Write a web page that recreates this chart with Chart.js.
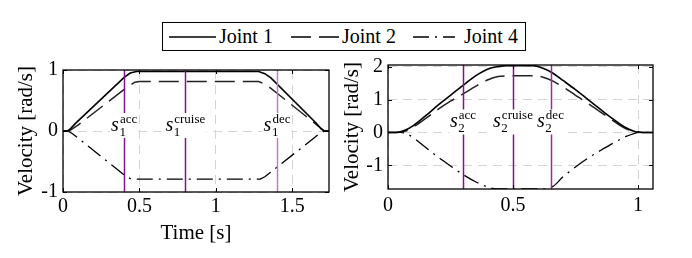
<!DOCTYPE html>
<html>
<head>
<meta charset="utf-8">
<script src="https://cdn.jsdelivr.net/npm/chart.js@4.4.1/dist/chart.umd.min.js"></script>
<style>
  html, body { margin: 0; padding: 0; background: #fff; }
  #wrap { position: relative; width: 692px; height: 258px; overflow: hidden; font-family: 'Liberation Serif', serif; }
  canvas { position: absolute; }
  #legend { position: absolute; left: 162px; top: 22px; width: 364px; height: 29px; border: 1px solid #000; box-sizing: border-box; }
  #legend svg, #legend span { position: absolute; }
  #legend span { font-size: 20px; line-height: 27px; top: 0; color: #000; }
</style>
</head>
<body>
<div id="wrap">
  <div id="legend">
    <svg style="left:6px;top:6px" width="48" height="16"><line x1="0" y1="8" x2="47" y2="8" stroke="#000" stroke-width="1.4"/></svg>
    <span style="left:56px">Joint 1</span>
    <svg style="left:128px;top:6px" width="48" height="16"><line x1="0" y1="8" x2="48" y2="8" stroke="#000" stroke-width="1.4" stroke-dasharray="20 8"/></svg>
    <span style="left:179px">Joint 2</span>
    <svg style="left:250px;top:6px" width="42" height="16"><line x1="0" y1="8" x2="42" y2="8" stroke="#000" stroke-width="1.4" stroke-dasharray="16 6 2 6"/></svg>
    <span style="left:301px">Joint 4</span>
  </div>
  <canvas id="leftChart" style="left:0;top:60px" width="338" height="198"></canvas>
  <canvas id="rightChart" style="left:338px;top:55px" width="354" height="203"></canvas>
</div>
<script>
// --- left plot: joint velocities over time [s] ---
const leftJ1T = [0, 0.03, 0.05, 0.08, 0.40, 0.44, 0.48, 1.28, 1.32, 1.36, 1.66, 1.69, 1.71, 1.74];
const leftJ1V = [0, 0, 0.04, 0.12, 0.88, 0.95, 0.975, 0.975, 0.94, 0.87, 0.12, 0.03, 0, 0];
const leftJ2T = [0, 0.04, 0.10, 0.42, 0.47, 0.50, 1.28, 1.33, 1.66, 1.71, 1.74];
const leftJ2V = [0, 0, 0.10, 0.72, 0.80, 0.81, 0.81, 0.76, 0.10, 0, 0];
const leftJ4T = [0, 0.03, 0.06, 0.40, 0.44, 0.46, 1.29, 1.32, 1.68, 1.71, 1.74];
const leftJ4V = [0, 0, -0.04, -0.72, -0.78, -0.79, -0.79, -0.75, -0.04, 0, 0];

// --- right plot ---
const rightJ1T = [0, 0.03, 0.06, 0.10, 0.15, 0.20, 0.25, 0.30, 0.35, 0.40, 0.44, 0.48, 0.58, 0.62, 0.66, 0.70, 0.75, 0.80, 0.85, 0.90, 0.95, 0.99, 1.02, 1.06];
const rightJ1V = [0, 0, 0.04, 0.20, 0.50, 0.83, 1.13, 1.43, 1.72, 1.93, 2.0, 2.03, 2.03, 1.95, 1.80, 1.58, 1.30, 1.00, 0.70, 0.41, 0.15, 0.02, 0, 0];
const rightJ2T = [0, 0.04, 0.07, 0.10, 0.15, 0.20, 0.25, 0.30, 0.35, 0.40, 0.44, 0.48, 0.58, 0.62, 0.66, 0.70, 0.75, 0.80, 0.85, 0.90, 0.95, 0.99, 1.02, 1.06];
const rightJ2V = [0, 0, 0.04, 0.16, 0.42, 0.70, 0.95, 1.17, 1.40, 1.60, 1.70, 1.72, 1.72, 1.68, 1.56, 1.38, 1.13, 0.88, 0.62, 0.36, 0.12, 0.02, 0, 0];
const rightJ4T = [0, 0.05, 0.08, 0.15, 0.20, 0.25, 0.30, 0.35, 0.40, 0.44, 0.62, 0.66, 0.70, 0.75, 0.80, 0.85, 0.90, 0.95, 0.99, 1.00, 1.06];
const rightJ4V = [0, 0, -0.06, -0.45, -0.75, -1.02, -1.28, -1.50, -1.66, -1.72, -1.72, -1.64, -1.35, -1.05, -0.78, -0.55, -0.33, -0.13, -0.02, 0, 0];

// --- phase markers (s^acc, s^cruise, s^dec) ---
const leftMarkT = [0.40, 0.80, 1.40];
const rightMarkT = [0.30, 0.50, 0.65];
const markSup = ['acc', 'cruise', 'dec'];

// --- tick labels ---
const leftXTicks = [0, 0.5, 1, 1.5];
const leftYTicks = [-1, 0, 1];
const rightXTicks = [0, 0.5, 1];
const rightYTicks = [-1, 0, 1, 2];

const FONT = "'Liberation Serif', serif";

function pts(t, v) {
    return t.map((x, i) => ({ x: x, y: v[i] }));
}

// frame, inward tick marks, phase marker lines and their labels
const framePlugin = {
    id: 'frameMarks',
    afterDatasetsDraw(chart, args, opts) {
        const ctx = chart.ctx;
        const a = chart.chartArea;
        const xs = chart.scales.x, ys = chart.scales.y;
        ctx.save();
        // marker lines
        opts.marks.forEach((t, i) => {
            const px = Math.round(xs.getPixelForValue(t)) + 0.5;
            ctx.strokeStyle = opts.colors[i];
            ctx.lineWidth = 1.5;
            ctx.beginPath();
            ctx.moveTo(px, a.top);
            ctx.lineTo(px, a.bottom);
            ctx.stroke();
        });
        // labels with white boxes
        opts.marks.forEach((t, i) => {
            const px = xs.getPixelForValue(t);
            const py = ys.getPixelForValue(opts.labelY);
            ctx.font = 'italic 20px ' + FONT;
            const sw = ctx.measureText('s').width;
            ctx.font = '13px ' + FONT;
            const supW = ctx.measureText(markSup[i]).width;
            const subW = ctx.measureText(opts.sub).width;
            const w = sw + 1 + Math.max(supW, subW);
            const x0 = px - w / 2;
            ctx.fillStyle = '#fff';
            ctx.fillRect(x0 - 1, py - 18, w + 2, 25);
            ctx.fillStyle = '#000';
            ctx.textBaseline = 'alphabetic';
            ctx.textAlign = 'left';
            ctx.font = 'italic 20px ' + FONT;
            ctx.fillText('s', x0, py);
            ctx.font = '13px ' + FONT;
            ctx.fillText(markSup[i], x0 + sw + 1, py - 8);
            ctx.fillText(opts.sub, x0 + sw + 0.5, py + 5);
        });
        // inward ticks
        ctx.strokeStyle = '#000';
        ctx.lineWidth = 1;
        ctx.beginPath();
        xs.ticks.forEach(tk => {
            const px = Math.round(xs.getPixelForValue(tk.value)) + 0.5;
            ctx.moveTo(px, a.bottom); ctx.lineTo(px, a.bottom - 4);
            ctx.moveTo(px, a.top); ctx.lineTo(px, a.top + 4);
        });
        ys.ticks.forEach(tk => {
            const py = Math.round(ys.getPixelForValue(tk.value)) + 0.5;
            ctx.moveTo(a.left, py); ctx.lineTo(a.left + 4, py);
            ctx.moveTo(a.right, py); ctx.lineTo(a.right - 4, py);
        });
        ctx.stroke();
        // frame
        ctx.lineWidth = 1.3;
        ctx.strokeRect(a.left, a.top, a.right - a.left, a.bottom - a.top);
        ctx.restore();
    }
};

function makeChart(id, cfg) {
    const lineBase = { pointRadius: 0, fill: false, cubicInterpolationMode: cfg.smooth ? 'monotone' : 'default', tension: 0 };
    return new Chart(document.getElementById(id), {
        type: 'line',
        data: {
            datasets: [
                Object.assign({ label: 'Joint 1', data: pts(cfg.j1t, cfg.j1v), borderWidth: 1.6, borderColor: '#000' }, lineBase),
                Object.assign({ label: 'Joint 2', data: pts(cfg.j2t, cfg.j2v), borderWidth: 1.5, borderDash: [20, 8], borderColor: '#222' }, lineBase),
                Object.assign({ label: 'Joint 4', data: pts(cfg.j4t, cfg.j4v), borderWidth: 1.3, borderDash: [16, 6, 2, 6], borderColor: '#000' }, lineBase)
            ]
        },
        options: {
            responsive: false,
            animation: false,
            events: [],
            layout: { padding: { top: cfg.padTop, right: cfg.padRight, left: 0, bottom: 0 } },
            plugins: {
                legend: { display: false },
                tooltip: { enabled: false },
                frameMarks: { marks: cfg.marks, colors: cfg.markColors, labelY: cfg.labelY, sub: cfg.sub }
            },
            scales: {
                x: {
                    type: 'linear',
                    min: cfg.xMin, max: cfg.xMax,
                    afterBuildTicks: s => { s.ticks = cfg.xTicks.map(v => ({ value: v })); },
                    afterFit: s => { s.height = cfg.xAxisH; s.paddingLeft = 0; s.paddingRight = 0; },
                    grid: { color: '#d4d4d4', lineWidth: 1, drawTicks: false },
                    border: { display: false, dash: [9, 6] },
                    ticks: { color: '#000', padding: cfg.xTickPad, maxRotation: 0, font: { family: FONT, size: 20 }, callback: v => String(v) },
                    title: { display: !!cfg.xTitle, text: cfg.xTitle || '', color: '#000', font: { family: FONT, size: 21 }, padding: { top: 0, bottom: 12 } }
                },
                y: {
                    type: 'linear',
                    min: cfg.yMin, max: cfg.yMax,
                    afterBuildTicks: s => { s.ticks = cfg.yTicks.map(v => ({ value: v })); },
                    afterFit: s => { s.width = cfg.yAxisW; s.paddingTop = 0; s.paddingBottom = 0; },
                    grid: { color: '#d4d4d4', lineWidth: 1, drawTicks: false },
                    border: { display: false, dash: [9, 6] },
                    ticks: { color: '#000', padding: 5, font: { family: FONT, size: 20 }, callback: v => String(v) },
                    title: { display: true, text: 'Velocity [rad/s]', color: '#000', font: { family: FONT, size: 21 }, padding: { top: cfg.yTitlePad, bottom: 0 } }
                }
            }
        },
        plugins: [framePlugin]
    });
}

document.addEventListener('DOMContentLoaded', () => {
    makeChart('leftChart', {
        j1t: leftJ1T, j1v: leftJ1V, j2t: leftJ2T, j2v: leftJ2V, j4t: leftJ4T, j4v: leftJ4V,
        smooth: false,
        xMin: 0, xMax: 1.74, yMin: -1, yMax: 1,
        xTicks: leftXTicks, yTicks: leftYTicks,
        marks: leftMarkT, markColors: ['#86108a', '#86108a', '#c47ac6'],
        labelY: 0, sub: '1',
        padTop: 10, padRight: 9, yAxisW: 63, xAxisH: 66, yTitlePad: 14, xTickPad: 3,
        xTitle: 'Time [s]'
    });
    makeChart('rightChart', {
        j1t: rightJ1T, j1v: rightJ1V, j2t: rightJ2T, j2v: rightJ2V, j4t: rightJ4T, j4v: rightJ4V,
        smooth: true,
        xMin: 0, xMax: 1.06, yMin: -1.72, yMax: 2.05,
        xTicks: rightXTicks, yTicks: rightYTicks,
        marks: rightMarkT, markColors: ['#86108a', '#86108a', '#9a2a9c'],
        labelY: 0.15, sub: '2',
        padTop: 10, padRight: 39, yAxisW: 50, xAxisH: 69, yTitlePad: 2, xTickPad: 5,
        xTitle: ''
    });
});
</script>
</body>
</html>
